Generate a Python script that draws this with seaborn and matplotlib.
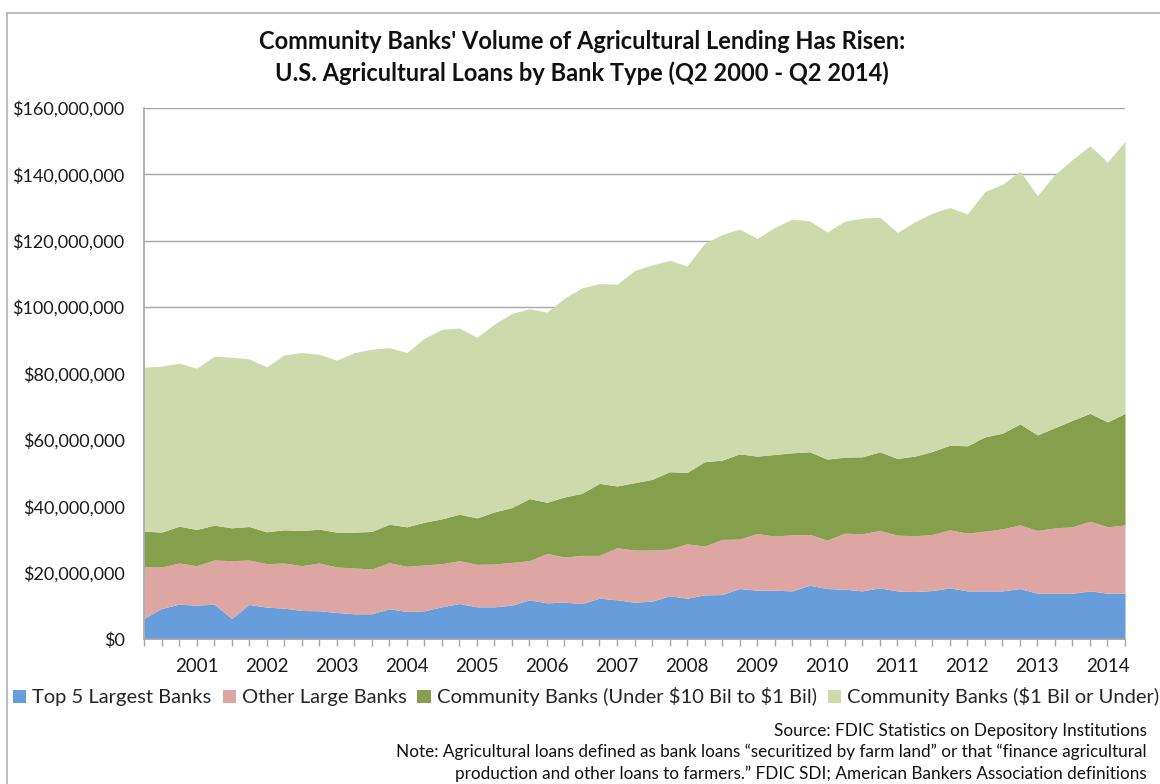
import matplotlib
matplotlib.use("Agg")
import matplotlib.pyplot as plt
from matplotlib.patches import Patch
from matplotlib.lines import Line2D
from matplotlib.ticker import FuncFormatter, MultipleLocator
import seaborn as sns
import numpy as np

# Quarterly data, Q2 2000 .. Q2 2014 (57 quarters), values in $ millions
quarters = [f"Q{q} {y}" for y in range(2000, 2015) for q in range(1, 5)][1:58]

top5 = [6.2, 9.2, 10.5, 10.2, 10.5, 6.2, 10.4, 9.6, 9.3, 8.6, 8.5, 8.0, 7.6, 7.6, 9.1,
        8.3, 8.5, 9.7, 10.7, 9.7, 9.7, 10.2, 11.8, 10.9, 11.1, 10.7, 12.3, 11.8, 11.1,
        11.4, 13.0, 12.3, 13.3, 13.4, 15.2, 14.7, 14.7, 14.5, 16.2, 15.2, 15.0, 14.5,
        15.4, 14.5, 14.3, 14.6, 15.4, 14.5, 14.5, 14.5, 15.2, 13.8, 13.8, 13.8, 14.5,
        13.8, 13.8]
other_large = [15.5, 12.5, 12.4, 11.9, 13.3, 17.4, 13.4, 13.1, 13.6, 13.5, 14.4, 13.7,
               13.8, 13.5, 13.9, 13.6, 13.8, 13.0, 12.9, 12.8, 12.9, 12.9, 11.8, 14.9,
               13.6, 14.5, 12.9, 15.7, 15.7, 15.4, 14.1, 16.4, 14.7, 16.6, 14.9, 17.1,
               16.3, 16.9, 15.3, 14.6, 16.9, 17.2, 17.3, 16.8, 16.8, 16.9, 17.5, 17.4,
               18.0, 18.7, 19.2, 18.9, 19.7, 20.0, 21.0, 20.0, 20.6]
community_mid = [10.8, 10.5, 11.1, 10.9, 10.5, 9.9, 10.1, 9.6, 10.0, 10.6, 10.2, 10.5,
                 10.8, 11.3, 11.6, 11.9, 12.9, 13.5, 14.0, 14.0, 15.7, 16.5, 18.7, 15.4,
                 18.1, 18.7, 21.7, 18.6, 20.3, 21.3, 23.3, 21.5, 25.4, 23.9, 25.7, 23.3,
                 24.6, 24.7, 24.9, 24.4, 22.9, 23.2, 23.7, 23.1, 24.0, 25.0, 25.5, 26.3,
                 28.4, 28.8, 30.4, 28.8, 30.2, 32.1, 32.5, 31.6, 33.6]
community_small = [49.4, 50.0, 49.1, 48.6, 50.9, 51.4, 50.5, 49.7, 52.7, 53.6, 52.7, 51.8,
                   54.1, 54.9, 53.2, 52.5, 55.4, 57.1, 56.1, 54.4, 56.6, 58.5, 57.2, 57.3,
                   59.9, 61.9, 60.2, 60.8, 63.9, 64.6, 63.7, 62.2, 65.8, 68.0, 67.7, 65.6,
                   68.4, 70.4, 69.6, 68.4, 71.1, 71.9, 70.7, 68.1, 70.6, 71.8, 71.6, 69.9,
                   73.9, 75.0, 76.2, 72.1, 76.3, 78.6, 80.6, 78.3, 82.0]

series_names = ["Top 5 Largest Banks", "Other Large Banks",
                "Community Banks (Under \\$10 Bil to \\$1 Bil)",
                "Community Banks (\\$1 Bil or Under)"]
colors = ["#669DDA", "#DEA6A2", "#859F4C", "#CED9AC"]

title = ("Community Banks' Volume of Agricultural Lending Has Risen:\n"
         "U.S. Agricultural Loans by Bank Type (Q2 2000 - Q2 2014)")
source = "Source: FDIC Statistics on Depository Institutions"
note = ("Note: Agricultural loans defined as bank loans \u201csecuritized by farm land\u201d or that \u201cfinance agricultural\n"
        "production and other loans to farmers.\u201d FDIC SDI; American Bankers Association definitions")

sns.set_theme(style="white")
plt.rcParams["font.family"] = ["Lato", "DejaVu Sans"]

W, H = 1160, 784
fig = plt.figure(figsize=(W / 100, H / 100), dpi=100)
ax = fig.add_axes([144 / W, 1 - 639 / H, (1125 - 144) / W, (639 - 108) / H])

x = np.arange(len(quarters))
ax.stackplot(x, top5, other_large, community_mid, community_small,
             colors=colors, linewidth=0, zorder=2)

ax.set_xlim(0, len(quarters) - 1)
ax.set_ylim(0, 160)
ax.yaxis.set_major_locator(MultipleLocator(20))
ax.yaxis.set_major_formatter(FuncFormatter(lambda v, p: f"${v * 1e6:,.0f}"))
ax.grid(axis="y", color="#A6A6A6", linewidth=1.0, zorder=0)
ax.grid(axis="x", visible=False)
ax.set_axisbelow(True)

# quarterly ticks, year labels on Q1 positions
ax.set_xticks(x)
labels = []
for q in quarters:
    qq, yy = q.split()
    labels.append(yy if qq == "Q1" else "")
ax.set_xticklabels(labels)
ax.tick_params(axis="x", length=5, width=1, color="#A6A6A6", pad=9,
               labelsize=13.5, labelcolor="#1a1a1a", bottom=True)
ax.tick_params(axis="y", length=0, pad=14, labelsize=13, labelcolor="#1a1a1a")

for s in ["top", "right"]:
    ax.spines[s].set_visible(False)
for s in ["left", "bottom"]:
    ax.spines[s].set_color("#A6A6A6")
    ax.spines[s].set_linewidth(1.2)

fig.text(582 / W, 1 - 57.5 / H, title, ha="center", va="center", fontsize=17,
         fontweight="bold", linespacing=1.45, color="#111111")

handles = [Patch(facecolor=c, edgecolor="none") for c in colors]
fig.legend(handles, series_names, loc="center", bbox_to_anchor=(586 / W, 1 - 697 / H),
           ncol=4, frameon=False, fontsize=14.5, handlelength=0.65, handleheight=0.65,
           handletextpad=0.3, columnspacing=0.55, borderaxespad=0, borderpad=0)

fig.text(1147 / W, 1 - 731 / H, source, ha="right", va="center", fontsize=12.3,
         color="#111111")
fig.text(1147 / W, 1 - 763 / H, note, ha="right", va="center", fontsize=12.3,
         color="#111111", multialignment="right", linespacing=1.4)

# outer chart frame (left and top edges visible)
fig.add_artist(Line2D([7 / W, 7 / W], [0, 1 - 13 / H], transform=fig.transFigure,
                      color="#B0B0B0", linewidth=1.2))
fig.add_artist(Line2D([7 / W, 1], [1 - 13 / H, 1 - 13 / H], transform=fig.transFigure,
                      color="#B0B0B0", linewidth=1.2))

fig.savefig("out.png", dpi=100)
